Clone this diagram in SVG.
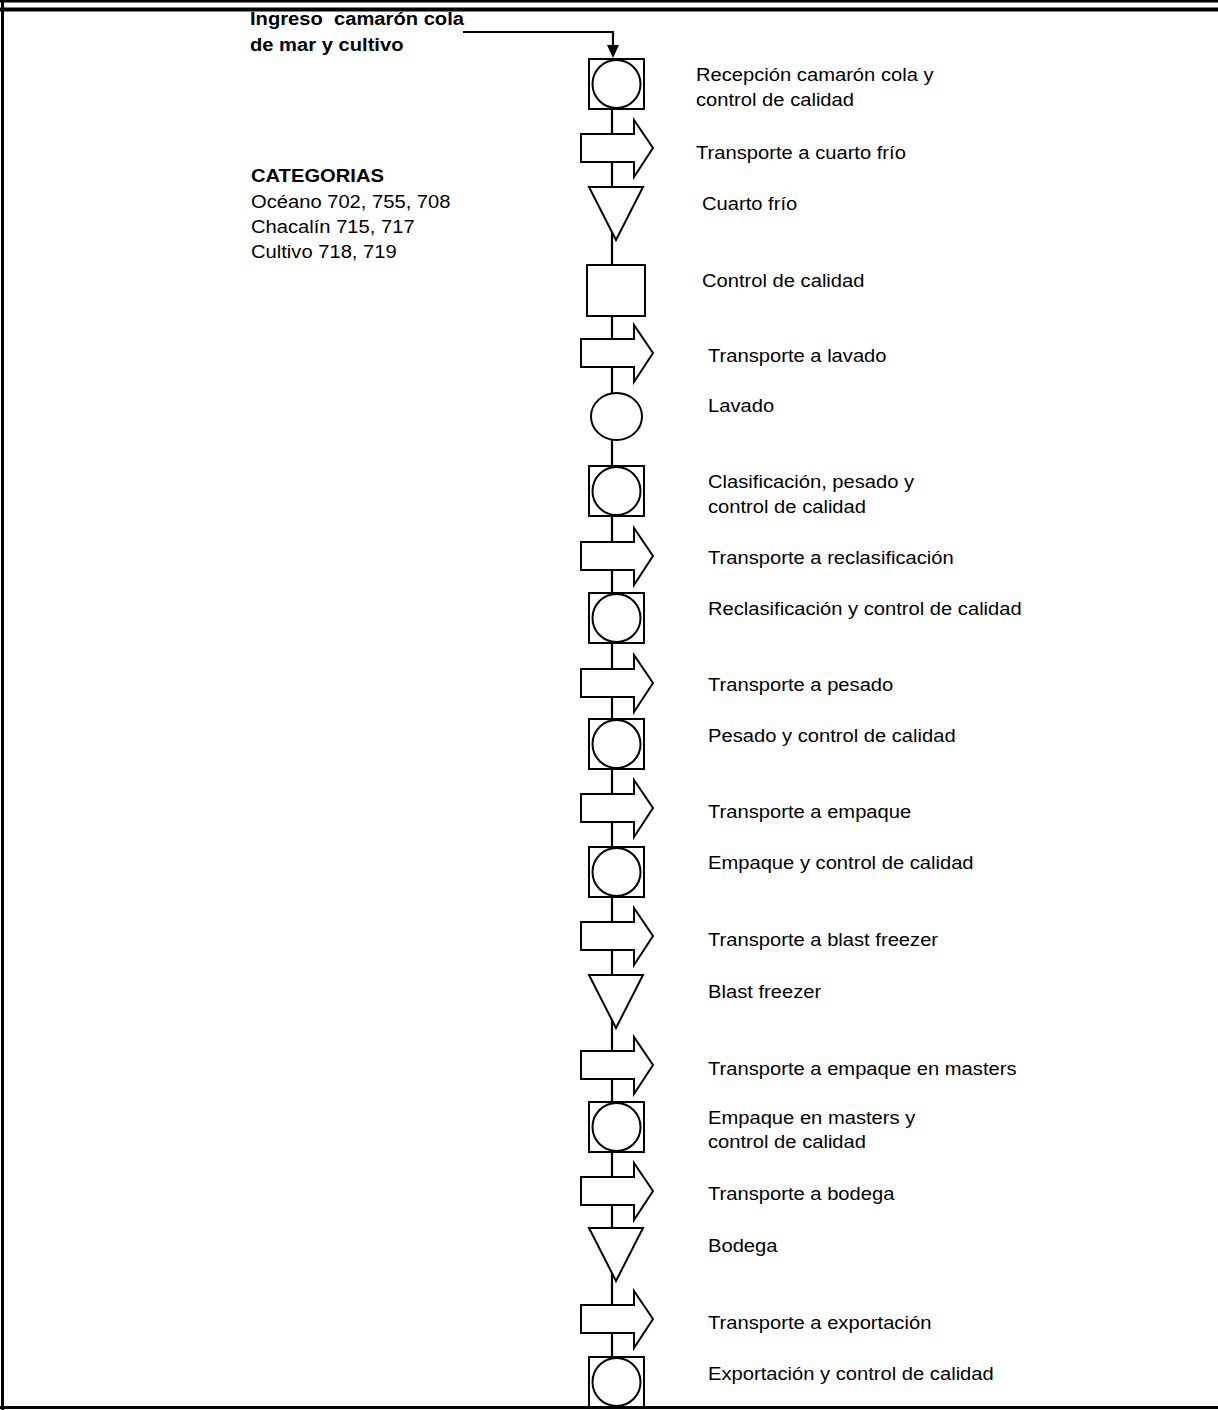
<svg xmlns="http://www.w3.org/2000/svg" width="1218" height="1410" viewBox="0 0 1218 1410">
<style>
.bg{fill:#fff}
.bd{fill:#000}
.ln{stroke:#000;stroke-width:2.2;fill:none}
.sh{stroke:#000;stroke-width:2;fill:#fff}
.t{font-family:"Liberation Sans",Arial,sans-serif;font-size:18.5px;fill:#000}
.b{font-weight:bold}
</style>
<defs>
<g id="combo"><rect x="589" y="0" width="55" height="50" class="sh"/><ellipse cx="616.5" cy="25" rx="24" ry="24" class="sh"/></g>
<polygon id="arrow" points="581,14 634,14 634,0 653,28 634,57 634,42 581,42" class="sh"/>
<polygon id="tri" points="589,0 643,0 616,53" class="sh"/>
</defs>
<rect class="bg" width="1218" height="1410"/>
<g id="border">
<rect class="bd" x="0" y="0" width="1218" height="2.5"/>
<rect class="bd" x="0" y="7.5" width="1218" height="4"/>
<rect class="bd" x="1" y="0" width="3" height="1410"/>
<rect class="bd" x="0" y="1406" width="1218" height="3"/>
</g>
<g id="connectors">
<polyline class="ln" points="463,32 613,32 613,47"/>
<polygon points="607,45 619,45 613,58" fill="#000"/>
<line class="ln" x1="612" y1="109" x2="612" y2="1358"/>
</g>
<g id="header">
<text class="t b" transform="translate(250,25) scale(1.09,1)" xml:space="preserve">Ingreso  camarón cola</text>
<text class="t b" transform="translate(250,51) scale(1.09,1)">de mar y cultivo</text>
</g>
<g id="categorias">
<text class="t b" transform="translate(251,182) scale(1.09,1)">CATEGORIAS</text>
<text class="t" transform="translate(251,208) scale(1.09,1)">Océano 702, 755, 708</text>
<text class="t" transform="translate(251,233) scale(1.09,1)">Chacalín 715, 717</text>
<text class="t" transform="translate(251,258) scale(1.09,1)">Cultivo 718, 719</text>
</g>
<g id="n1"><use href="#combo" y="59"/><text class="t" transform="translate(696,81) scale(1.09,1)">Recepción camarón cola y</text><text class="t" transform="translate(696,106) scale(1.09,1)">control de calidad</text></g>
<g id="n2"><use href="#arrow" y="120"/><text class="t" transform="translate(696,159) scale(1.09,1)">Transporte a cuarto frío</text></g>
<g id="n3"><use href="#tri" y="187"/><text class="t" transform="translate(702,210) scale(1.09,1)">Cuarto frío</text></g>
<g id="n4"><rect x="587" y="265" width="58" height="51" class="sh"/><text class="t" transform="translate(702,287) scale(1.09,1)">Control de calidad</text></g>
<g id="n5"><use href="#arrow" y="325"/><text class="t" transform="translate(708,362) scale(1.09,1)">Transporte a lavado</text></g>
<g id="n6"><ellipse cx="616.5" cy="416.5" rx="25.5" ry="23.5" class="sh"/><text class="t" transform="translate(708,412) scale(1.09,1)">Lavado</text></g>
<g id="n7"><use href="#combo" y="466"/><text class="t" transform="translate(708,488) scale(1.09,1)">Clasificación, pesado y</text><text class="t" transform="translate(708,513) scale(1.09,1)">control de calidad</text></g>
<g id="n8"><use href="#arrow" y="528"/><text class="t" transform="translate(708,564) scale(1.09,1)">Transporte a reclasificación</text></g>
<g id="n9"><use href="#combo" y="593"/><text class="t" transform="translate(708,615) scale(1.09,1)">Reclasificación y control de calidad</text></g>
<g id="n10"><use href="#arrow" y="655"/><text class="t" transform="translate(708,691) scale(1.09,1)">Transporte a pesado</text></g>
<g id="n11"><use href="#combo" y="719"/><text class="t" transform="translate(708,742) scale(1.09,1)">Pesado y control de calidad</text></g>
<g id="n12"><use href="#arrow" y="780"/><text class="t" transform="translate(708,818) scale(1.09,1)">Transporte a empaque</text></g>
<g id="n13"><use href="#combo" y="847"/><text class="t" transform="translate(708,869) scale(1.09,1)">Empaque y control de calidad</text></g>
<g id="n14"><use href="#arrow" y="908"/><text class="t" transform="translate(708,946) scale(1.09,1)">Transporte a blast freezer</text></g>
<g id="n15"><use href="#tri" y="975"/><text class="t" transform="translate(708,998) scale(1.09,1)">Blast freezer</text></g>
<g id="n16"><use href="#arrow" y="1037"/><text class="t" transform="translate(708,1075) scale(1.09,1)">Transporte a empaque en masters</text></g>
<g id="n17"><use href="#combo" y="1102"/><text class="t" transform="translate(708,1124) scale(1.09,1)">Empaque en masters y</text><text class="t" transform="translate(708,1148) scale(1.09,1)">control de calidad</text></g>
<g id="n18"><use href="#arrow" y="1163"/><text class="t" transform="translate(708,1200) scale(1.09,1)">Transporte a bodega</text></g>
<g id="n19"><use href="#tri" y="1228"/><text class="t" transform="translate(708,1252) scale(1.09,1)">Bodega</text></g>
<g id="n20"><use href="#arrow" y="1291"/><text class="t" transform="translate(708,1329) scale(1.09,1)">Transporte a exportación</text></g>
<g id="n21"><use href="#combo" y="1357"/><text class="t" transform="translate(708,1380) scale(1.09,1)">Exportación y control de calidad</text></g>
</svg>
